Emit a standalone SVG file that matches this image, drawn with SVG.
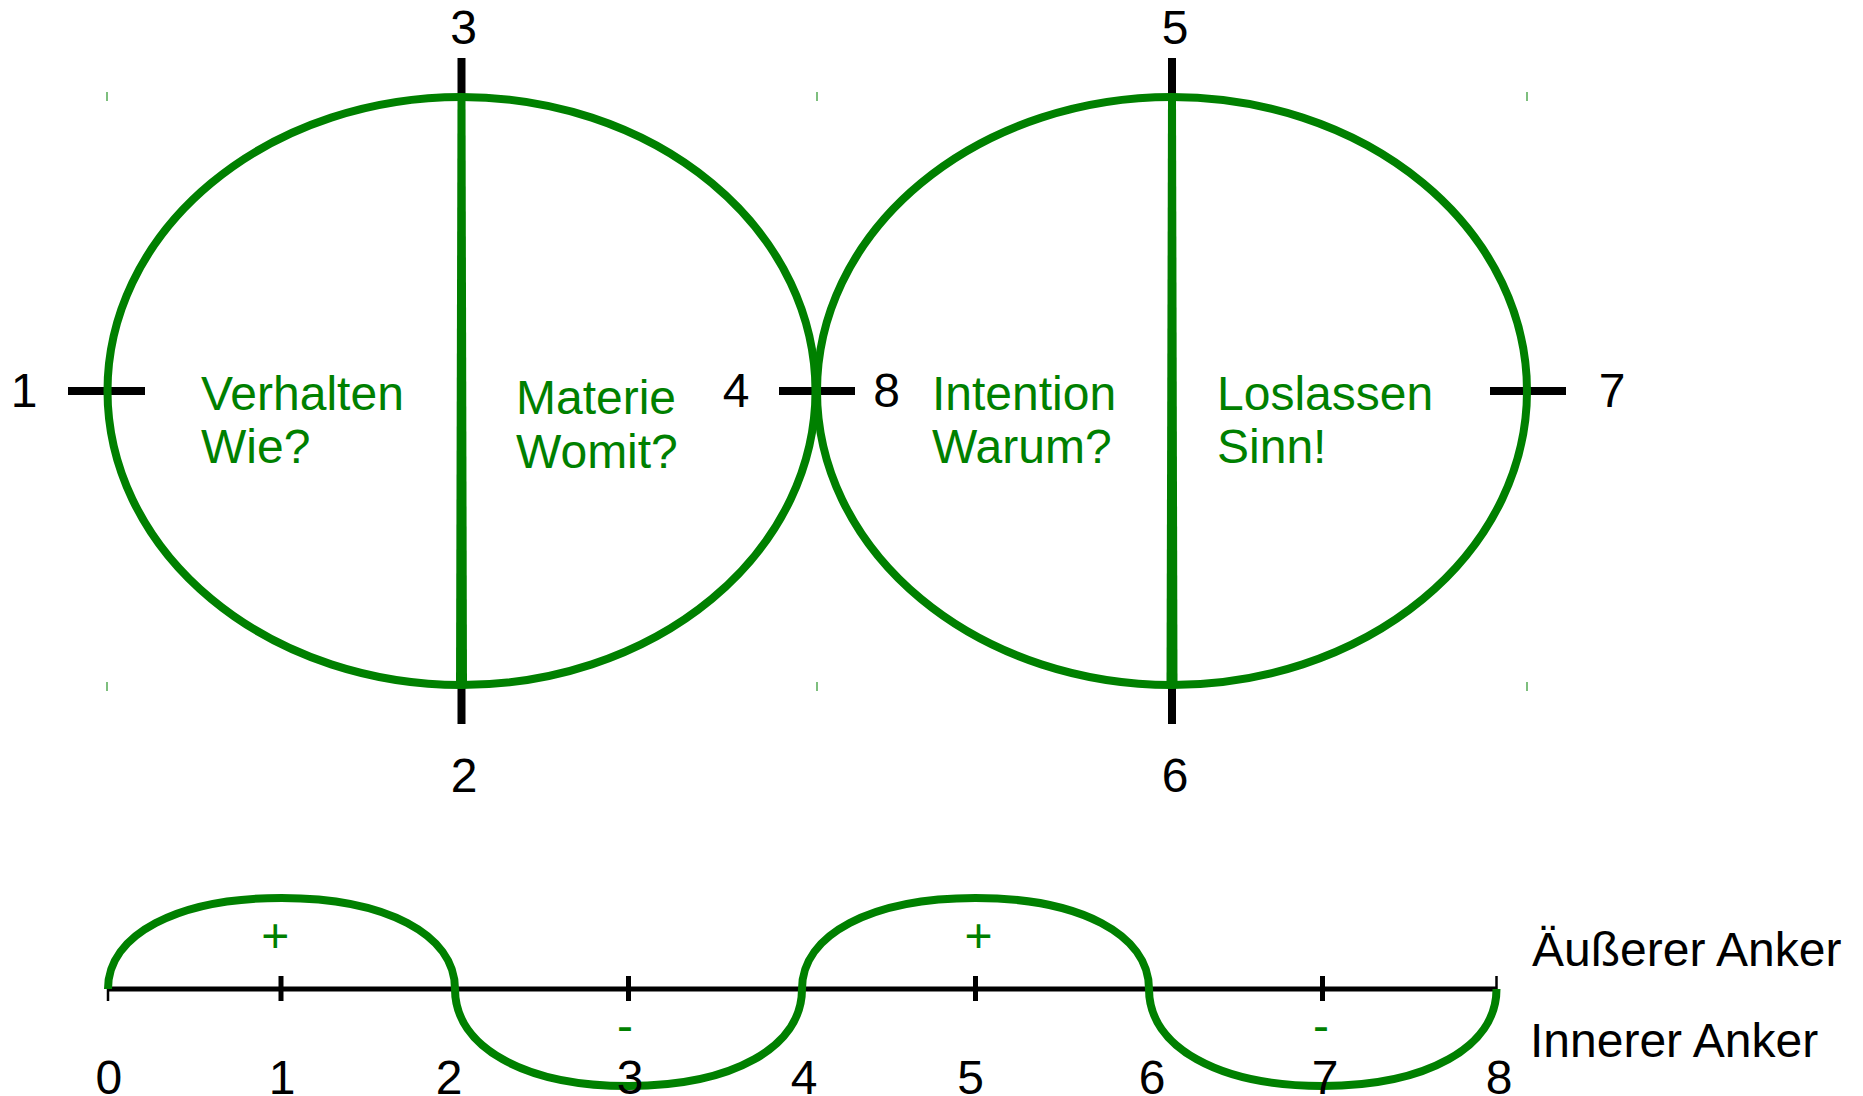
<svg xmlns="http://www.w3.org/2000/svg" width="1863" height="1096" viewBox="0 0 1863 1096">
<style>
.g{fill:none;stroke:#008000;stroke-width:8}
.k{stroke:#000;stroke-width:8;fill:none}
.kt{stroke:#000;stroke-width:5;fill:none}
.ke{stroke:#000;stroke-width:2.5;fill:none}
.m{stroke:#008000;stroke-width:2;opacity:0.5}
text{font-family:"Liberation Sans",Arial,sans-serif;font-size:48px}
.n{fill:#000;text-anchor:middle}
.l{fill:#008000}
.lc{fill:#008000;text-anchor:middle}
.a{fill:#000}
</style>
<rect width="1863" height="1096" fill="#fff"/>
<g id="marks">
<line class="m" x1="107" y1="92" x2="107" y2="101"/>
<line class="m" x1="817" y1="92" x2="817" y2="101"/>
<line class="m" x1="1527" y1="92" x2="1527" y2="101"/>
<line class="m" x1="107" y1="682" x2="107" y2="691"/>
<line class="m" x1="817" y1="682" x2="817" y2="691"/>
<line class="m" x1="1527" y1="682" x2="1527" y2="691"/>
</g>
<g id="ticks">
<line class="k" x1="461.5" y1="58" x2="461.5" y2="100"/>
<line class="k" x1="461.5" y1="682" x2="461.5" y2="724"/>
<line class="k" x1="1172" y1="58" x2="1172" y2="100"/>
<line class="k" x1="1172" y1="682" x2="1172" y2="724"/>
<line class="k" x1="68" y1="391" x2="145" y2="391"/>
<line class="k" x1="779" y1="391" x2="855" y2="391"/>
<line class="k" x1="1490" y1="391" x2="1566" y2="391"/>
</g>
<g id="node-left">
<ellipse class="g" cx="461.5" cy="391" rx="354" ry="294"/>
<polygon fill="#008000" points="457.5,97 465.5,97 467,685 456,685"/>
<text class="l" x="201" y="410">Verhalten</text>
<text class="l" x="201" y="463">Wie?</text>
<text class="l" x="516" y="414">Materie</text>
<text class="l" x="516" y="468">Womit?</text>
</g>
<g id="node-right">
<ellipse class="g" cx="1172" cy="391" rx="355" ry="294"/>
<polygon fill="#008000" points="1168,97 1176,97 1177.5,685 1166.5,685"/>
<text class="l" x="932" y="410">Intention</text>
<text class="l" x="932" y="463">Warum?</text>
<text class="l" x="1217" y="410">Loslassen</text>
<text class="l" x="1217" y="463">Sinn!</text>
</g>
<g id="labels">
<text class="n" x="463.5" y="44">3</text>
<text class="n" x="1175" y="44">5</text>
<text class="n" x="24" y="407">1</text>
<text class="n" x="736" y="407">4</text>
<text class="n" x="886.5" y="407">8</text>
<text class="n" x="1612" y="407">7</text>
<text class="n" x="464" y="792">2</text>
<text class="n" x="1175" y="792">6</text>
</g>
<g id="axis">
<line class="kt" x1="108" y1="989" x2="1497" y2="989"/>
<line class="ke" x1="108" y1="976" x2="108" y2="1001"/>
<line class="ke" x1="1496.5" y1="976" x2="1496.5" y2="1001"/>
<line class="kt" x1="281" y1="976" x2="281" y2="1001"/>
<line class="kt" x1="628.5" y1="976" x2="628.5" y2="1001"/>
<line class="kt" x1="975.5" y1="976" x2="975.5" y2="1001"/>
<line class="kt" x1="1322.5" y1="976" x2="1322.5" y2="1001"/>
</g>
<g id="connectors">
<path class="g" stroke-width="7" d="M108,989 C108,934.4 177.4,898 281.5,898 C385.6,898 455,934.4 455,989 C455,1047.2 524.4,1086 628.5,1086 C732.6,1086 802,1047.2 802,989 C802,934.4 871.4,898 975.5,898 C1079.6,898 1149,934.4 1149,989 C1149,1047.2 1218.4,1086 1322.5,1086 C1426.6,1086 1496.5,1047.2 1496.5,989"/>
</g>
<g id="axis-labels">
<text class="lc" x="275.3" y="952">+</text>
<text class="lc" x="978.6" y="952">+</text>
<text class="lc" x="625" y="1042">-</text>
<text class="lc" x="1321" y="1042">-</text>
<text class="n" x="108.8" y="1094">0</text>
<text class="n" x="282" y="1094">1</text>
<text class="n" x="449" y="1094">2</text>
<text class="n" x="630" y="1094">3</text>
<text class="n" x="804" y="1094">4</text>
<text class="n" x="970.5" y="1094">5</text>
<text class="n" x="1152" y="1094">6</text>
<text class="n" x="1325" y="1094">7</text>
<text class="n" x="1499" y="1094">8</text>
<text class="a" x="1532" y="966">Äußerer Anker</text>
<text class="a" x="1530" y="1057">Innerer Anker</text>
</g>
</svg>
